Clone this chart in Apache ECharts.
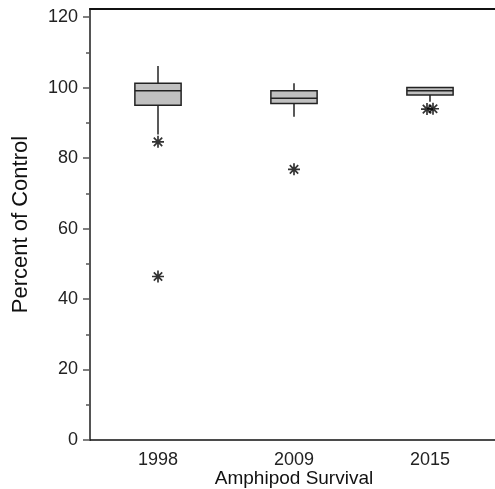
<!DOCTYPE html>
<html>
<head>
<meta charset="utf-8">
<script src="https://cdn.jsdelivr.net/npm/echarts@6/dist/echarts.min.js"></script>
<style>
  html, body { margin: 0; padding: 0; background: #fff; }
  #main { width: 495px; height: 489px; }
</style>
</head>
<body>
<div id="main"></div>
<script>
// box plot summary per year
const years = ["1998", "2009", "2015"];
const whiskerLow = [86.7, 91.7, 96.0];
const q1 = [95.0, 95.5, 97.9];
const median = [99.1, 97.0, 99.1];
const q3 = [101.2, 99.1, 100.0];
const whiskerHigh = [106.1, 101.2, 100.0];
// outliers: [category index, value, horizontal jitter]
const outliers = [[0, 84.6, 0], [0, 46.4, 0], [1, 76.8, 0], [2, 93.9, -3], [2, 94.0, 3]];
const yMajor = [0, 20, 40, 60, 80, 100, 120];
const yMinor = [10, 30, 50, 70, 90, 110];

const FONT = "'Liberation Sans', Arial, sans-serif";
const STAR = "path://M5 0 L5 10 M0 5 L10 5 M1.5 1.5 L8.5 8.5 M8.5 1.5 L1.5 8.5";

let myChart = echarts.init(document.getElementById("main"));

function renderBox(params, api) {
  let i = api.value(0);
  let lo = api.coord([i, api.value(1)]);
  let b = api.coord([i, api.value(2)]);
  let m = api.coord([i, api.value(3)]);
  let t = api.coord([i, api.value(4)]);
  let hi = api.coord([i, api.value(5)]);
  let half = api.size([1, 0])[0] * 0.17;
  let x = lo[0];
  let st = { stroke: "#222", lineWidth: 1.5 };
  return {
    type: "group",
    children: [
      { type: "line", shape: { x1: x, y1: lo[1], x2: x, y2: hi[1] }, style: st },
      {
        type: "rect",
        shape: { x: x - half, y: t[1], width: half * 2, height: b[1] - t[1] },
        style: { fill: "#c0c0c0", stroke: "#222", lineWidth: 1.5 },
      },
      { type: "line", shape: { x1: x - half, y1: m[1], x2: x + half, y2: m[1] }, style: st },
    ],
  };
}

let option = {
  animation: false,
  grid: { left: 90, right: -3, top: 9, bottom: 49, containLabel: false, outerBoundsMode: "none" },
  xAxis: [
    {
      type: "category",
      data: years,
      position: "bottom",
      axisLine: { onZero: false, lineStyle: { color: "#111", width: 1.5 } },
      axisTick: { show: false },
      axisLabel: { fontSize: 18, color: "#222", fontFamily: FONT, margin: 11 },
      name: "Amphipod Survival",
      nameLocation: "middle",
      nameGap: 29,
      nameMoveOverlap: false,
      nameTextStyle: { fontSize: 19, color: "#111", fontFamily: FONT },
    },
    {
      type: "category",
      data: years,
      position: "top",
      axisLine: { onZero: false, lineStyle: { color: "#111", width: 2 } },
      axisTick: { show: false },
      axisLabel: { show: false },
    },
  ],
  yAxis: [
    {
      type: "value",
      min: 0,
      max: 122.3,
      position: "left",
      splitLine: { show: false },
      axisLine: { show: true, onZero: false, lineStyle: { color: "#555", width: 2 } },
      axisTick: { show: true, customValues: yMajor, length: 7, lineStyle: { color: "#555", width: 1.5 } },
      axisLabel: { customValues: yMajor, fontSize: 18, color: "#222", fontFamily: FONT, margin: 12 },
      name: "Percent of Control",
      nameLocation: "middle",
      nameGap: 58,
      nameMoveOverlap: false,
      nameTextStyle: { fontSize: 22, color: "#111", fontFamily: FONT },
    },
    {
      type: "value",
      min: 0,
      max: 122.3,
      position: "left",
      splitLine: { show: false },
      axisLine: { show: false, onZero: false },
      axisTick: { show: true, customValues: yMinor, length: 4, lineStyle: { color: "#555", width: 1.5 } },
      axisLabel: { show: false },
    },
  ],
  series: [
    {
      type: "custom",
      renderItem: renderBox,
      encode: { x: 0, y: [1, 2, 3, 4, 5] },
      data: years.map((y, i) => [i, whiskerLow[i], q1[i], median[i], q3[i], whiskerHigh[i]]),
      z: 2,
    },
    {
      type: "scatter",
      symbol: STAR,
      symbolSize: 12,
      itemStyle: { color: "none", borderColor: "#000", borderWidth: 1.7 },
      data: outliers.map((o) => ({ value: [o[0], o[1]], symbolOffset: [o[2], 0] })),
      z: 3,
    },
  ],
};
myChart.setOption(option);
</script>
</body>
</html>
